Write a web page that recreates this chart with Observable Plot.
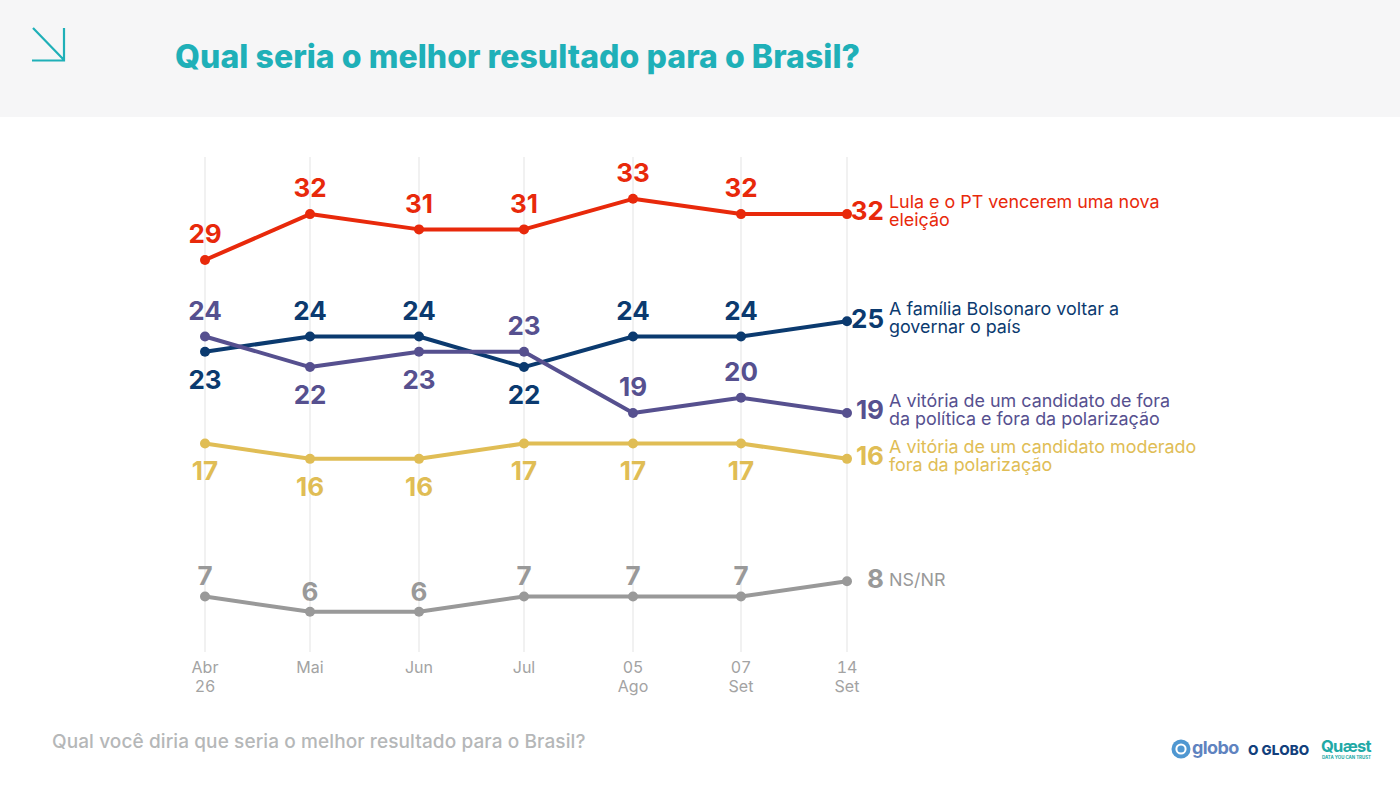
<!DOCTYPE html>
<html lang="pt-BR">
<head>
<meta charset="utf-8">
<script src="https://cdn.jsdelivr.net/npm/d3@7"></script>
<script src="https://cdn.jsdelivr.net/npm/@observablehq/plot@0.6"></script>
<style>
html,body{margin:0;padding:0;background:#fff;width:1400px;height:788px;overflow:hidden;font-family:Inter,sans-serif}
#head{position:absolute;left:0;top:0;width:1400px;height:117px;background:#f6f6f7}
#head svg{position:absolute;left:30px;top:26px}
#title{position:absolute;left:175px;top:35px;font:800 32px/44px Inter,sans-serif;color:#1fb0b8;white-space:nowrap;letter-spacing:.05px}
#chart{position:absolute;left:0;top:117px}
#question{position:absolute;left:52px;top:731px;font:500 19px/22px Inter,sans-serif;color:#b5b7b8;white-space:nowrap;letter-spacing:.1px}
.logo{position:absolute;white-space:nowrap}
</style>
</head>
<body>
<div id="head">
  <svg width="38" height="38" viewBox="0 0 38 38" fill="none" stroke="#1fb0b8" stroke-width="2.2"><path d="M3 2 L34 34 M34 2 V34.5 H2"/></svg>
  <div id="title">Qual seria o melhor resultado para o Brasil?</div>
</div>
<div id="chart"></div>
<div id="question">Qual você diria que seria o melhor resultado para o Brasil?</div>
<svg class="logo" style="left:1170px;top:738px" width="22" height="22" viewBox="0 0 22 22"><circle cx="11" cy="11" r="9.5" fill="#4f97d1"/><circle cx="11" cy="11" r="5.6" fill="#fff"/><circle cx="11" cy="11" r="3.6" fill="#4f97d1"/></svg>
<div class="logo" style="left:1192px;top:736px;font:700 18px/24px Inter,sans-serif;letter-spacing:-.6px;color:#5f83c0">globo</div>
<div class="logo" style="left:1248px;top:741px;font:800 13.5px/18px Inter,sans-serif;letter-spacing:.1px;color:#123f7c">O GLOBO</div>
<div class="logo" style="left:1321px;top:739px;font:700 16.5px/15px Inter,sans-serif;letter-spacing:-.7px;color:#21a9a6">Quæst</div>
<div class="logo" style="left:1322px;top:754.5px;font:700 4.4px/6px Inter,sans-serif;color:#21a9a6">DATA YOU CAN TRUST</div>
<script>
const periods = ["Abr\n26", "Mai", "Jun", "Jul", "05\nAgo", "07\nSet", "14\nSet"];

const lula = [29, 32, 31, 31, 33, 32, 32];
const bolsonaro = [23, 24, 24, 22, 24, 24, 25];
const outsider = [24, 22, 23, 23, 19, 20, 19];
const moderate = [17, 16, 16, 17, 17, 17, 16];
const unsure = [7, 6, 6, 7, 7, 7, 8];

const lulaLabel = "Lula e o PT vencerem uma nova\neleição";
const bolsonaroLabel = "A família Bolsonaro voltar a\ngovernar o país";
const outsiderLabel = "A vitória de um candidato de fora\nda política e fora da polarização";
const moderateLabel = "A vitória de um candidato moderado\nfora da polarização";
const unsureLabel = "NS/NR";

// periods whose value label sits under the point
const lulaBelow = [];
const bolsonaroBelow = [0, 3];
const outsiderBelow = [1, 2];
const moderateBelow = [0, 1, 2, 3, 4, 5];
const unsureBelow = [];

const series = [
  {values: lula, label: lulaLabel, below: lulaBelow, color: "#e8290b"},
  {values: bolsonaro, label: bolsonaroLabel, below: bolsonaroBelow, color: "#0b3a6f"},
  {values: outsider, label: outsiderLabel, below: outsiderBelow, color: "#56508f"},
  {values: moderate, label: moderateLabel, below: moderateBelow, color: "#e0bd55"},
  {values: unsure, label: unsureLabel, below: unsureBelow, color: "#999999"}
];

const rows = series.flatMap(s => s.values.map((v, i) => ({
  i, v, color: s.color, label: s.label, below: s.below.includes(i),
  last: i === s.values.length - 1, gray: s.values === unsure
})));
const inner = rows.filter(d => !d.last);
const ends = rows.filter(d => d.last);
const idx = periods.map((_, i) => i);
const numberFont = {fontFamily: "Inter, sans-serif", fontSize: 26, fontWeight: 700};
const labelFont = {fontFamily: "Inter, sans-serif", fontSize: 17.9, lineHeight: 1.006, textAnchor: "start"};

const chart = Plot.plot({
  width: 1400,
  height: 600,
  marginTop: 40,
  marginBottom: 65,
  marginLeft: 0,
  marginRight: 0,
  style: {background: "transparent", fontFamily: "Inter, sans-serif", overflow: "visible"},
  x: {type: "linear", domain: idx, range: [204.5, 309.5, 418.5, 523.5, 632.5, 740.5, 846.5]},
  y: {domain: [3.34, 35.7], axis: null},
  marks: [
    Plot.ruleX(idx, {x: d => d, stroke: "#ececec", strokeWidth: 1.5}),
    Plot.axisX({
      ticks: idx, tickFormat: i => periods[i], tickSize: 0, tickPadding: 7,
      fontSize: 16, lineHeight: 1.2, fill: "#a3a3a3", stroke: "none", label: null
    }),
    Plot.line(rows, {x: "i", y: "v", z: "color", stroke: d => d.color, strokeWidth: 4, curve: "linear"}),
    Plot.dot(rows, {x: "i", y: "v", fill: d => d.color, r: 5}),
    Plot.text(inner.filter(d => !d.below && !d.gray), {
      x: "i", y: "v", text: d => String(d.v), fill: d => d.color, dy: -25, ...numberFont
    }),
    Plot.text(inner.filter(d => d.gray), {
      x: "i", y: "v", text: d => String(d.v), fill: d => d.color, dy: -19.5, ...numberFont
    }),
    Plot.text(inner.filter(d => d.below), {
      x: "i", y: "v", text: d => String(d.v), fill: d => d.color, dy: 28.5, ...numberFont
    }),
    Plot.text(ends, {
      x: "i", y: "v", text: d => String(d.v), fill: d => d.color,
      dx: 37, dy: -2, textAnchor: "end", ...numberFont
    }),
    Plot.text(ends.filter(d => !d.gray), {
      x: "i", y: "v", text: "label", fill: d => d.color, dx: 42, dy: -3, ...labelFont
    }),
    Plot.text(ends.filter(d => d.gray), {
      x: "i", y: "v", text: "label", fill: d => d.color, dx: 42, dy: -1, ...labelFont
    })
  ]
});
document.getElementById("chart").append(chart);
</script>
</body>
</html>
